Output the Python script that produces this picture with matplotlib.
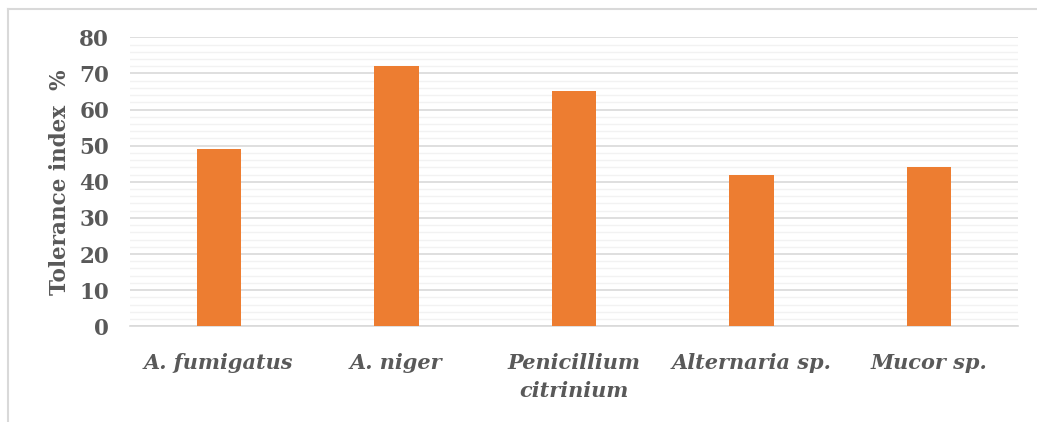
import matplotlib.pyplot as plt
from matplotlib.lines import Line2D
from matplotlib.ticker import MultipleLocator

species = ['A. fumigatus', 'A. niger', 'Penicillium\ncitrinium', 'Alternaria sp.', 'Mucor sp.']
tolerance = [49, 72, 65, 42, 44]

text_color = '#595959'
bar_color = '#ED7D31'

plt.rcParams['font.family'] = 'DejaVu Serif'

fig = plt.figure(figsize=(10.37, 4.22), dpi=100)
ax = fig.add_axes([0.1254, 0.2268, 0.8563, 0.6848])

x = range(len(species))
ax.bar(x, tolerance, width=0.25, color=bar_color, zorder=3)

ax.set_xlim(-0.5, len(species) - 0.5)
ax.set_ylim(0, 80)
ax.yaxis.set_major_locator(MultipleLocator(10))
ax.yaxis.set_minor_locator(MultipleLocator(2))

ax.grid(axis='y', which='major', color='#D9D9D9', linewidth=1.2, zorder=0)
ax.grid(axis='y', which='minor', color='#F2F2F2', linewidth=1.0, zorder=0)
ax.set_axisbelow(True)

for side in ['top', 'right', 'left']:
    ax.spines[side].set_visible(False)
ax.spines['bottom'].set_color('#D9D9D9')
ax.spines['bottom'].set_linewidth(1.2)

ax.set_xticks(list(x))
ax.set_xticklabels(species, fontsize=15, fontweight='bold', fontstyle='italic',
                   color=text_color, linespacing=1.55, va='top')
ax.tick_params(axis='x', length=0, pad=19)
ax.tick_params(axis='y', which='both', length=0, pad=15, labelsize=15.5,
               labelcolor=text_color)
for lbl in ax.get_yticklabels():
    lbl.set_fontweight('bold')

ax.set_ylabel('Tolerance index  %', fontsize=15.5, fontweight='bold',
              color=text_color, labelpad=6)

# thin frame around the chart area
fig.add_artist(Line2D([8 / 1037, 1], [1 - 9 / 422, 1 - 9 / 422],
                      transform=fig.transFigure, color='#D9D9D9', linewidth=1.5))
fig.add_artist(Line2D([8 / 1037, 8 / 1037], [0, 1 - 9 / 422],
                      transform=fig.transFigure, color='#D9D9D9', linewidth=1.5))

fig.savefig('out.png', dpi=100)
